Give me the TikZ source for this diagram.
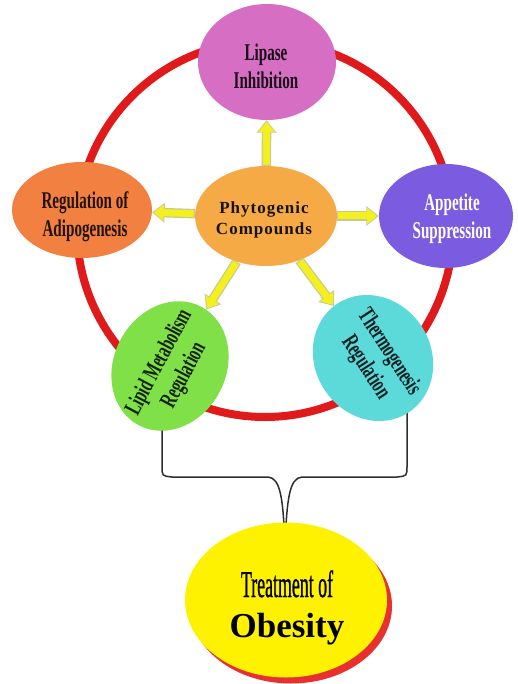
\documentclass[tikz,border=0pt]{standalone}
\usepackage{fontspec}
\setmainfont{Liberation Serif}
\newfontfamily\cond[FakeStretch=0.63]{Liberation Serif}
\newfontfamily\condx[FakeStretch=0.47,FakeBold=0.6]{Liberation Serif}
\newfontfamily\wide[LetterSpace=6]{Liberation Serif}
\usetikzlibrary{shapes.geometric,arrows.meta}
\definecolor{ringred}{HTML}{E01A1A}
\definecolor{cpink}{HTML}{D66EC4}
\definecolor{corange}{HTML}{F28040}
\definecolor{cphyto}{HTML}{F5AA45}
\definecolor{cpurple}{HTML}{7B5BE0}
\definecolor{cgreen}{HTML}{80E048}
\definecolor{ccyan}{HTML}{5CD9D9}
\definecolor{cyel}{HTML}{FFF200}
\definecolor{cshadow}{HTML}{E83030}
\definecolor{arrowyel}{HTML}{F4F01E}
\definecolor{arrowedge}{HTML}{C8C89A}
\definecolor{bracket}{HTML}{2E2E2E}
\tikzset{
  blob/.style={ellipse, inner sep=0pt, draw=none},
  lbl/.style={align=center, inner sep=0pt, font={\cond\bfseries\fontsize{24}{28}\selectfont}},
  arrowout/.style={draw=arrowedge, line width=9.5pt, -{Triangle[width=19pt,length=12.5pt]}},
  arrowin/.style={draw=arrowyel, line width=7pt, shorten >=1.6pt, shorten <=1.2pt, -{Triangle[width=15.5pt,length=10pt]}},
  brack/.style={draw=bracket, line width=1.5pt, line join=round}
}
\begin{document}
\begin{tikzpicture}[x=1pt,y=-1pt]
\useasboundingbox (0,0) rectangle (518,684);
\fill[white] (0,0) rectangle (518,684);
% ring
\node[circle, draw=ringred, line width=8pt, minimum size=376pt, inner sep=0pt] (ring) at (265,229) {};
% bracket
\coordinate (bl) at (162,400);
\coordinate (br) at (407,400);
\coordinate (bm) at (285,545);
\draw[brack] (bl) -- (162,466) .. controls (162,476) .. (172,477) -- (268,477)
  .. controls (281,478) and (283,500) .. (bm);
\draw[brack] (br) -- (407,466) .. controls (407,476) .. (397,477) -- (302,477)
  .. controls (289,478) and (287,500) .. (bm);
% ellipses
\node[blob, fill=cpink, minimum width=138pt, minimum height=116pt] (lp) at (267,62) {};
\node[blob, fill=corange, minimum width=140pt, minimum height=96pt] (ad) at (82,210) {};
\node[blob, fill=cphyto, minimum width=142pt, minimum height=100pt] (ph) at (266,216) {};
\node[blob, fill=cpurple, minimum width=134pt, minimum height=104pt] (ap) at (446,216) {};
\node[blob, fill=cgreen, minimum width=134pt, minimum height=112pt, rotate=62] (li) at (170,366) {};
\node[blob, fill=ccyan, minimum width=130pt, minimum height=116pt, rotate=-57] (th) at (373,358) {};
\node[blob, fill=cshadow, minimum width=202pt, minimum height=155pt] (obs) at (291,606) {};
\node[blob, fill=cyel, minimum width=202pt, minimum height=155pt] (ob) at (286,600) {};
% labels
\node[lbl, text=black!80!cpink!60!black] (lpt) at (266,66) {Lipase\\Inhibition};
\node[lbl, text=black!85!corange] (adt) at (85,217) {Regulation of\\Adipogenesis};
\node[align=center, inner sep=0pt, font={\wide\bfseries\fontsize{17}{21}\selectfont}, text=black!90!cphyto] (pht) at (264,220) {Phytogenic\\Compounds};
\node[lbl, text=white] (apt) at (452,219) {Appetite\\Suppression};
\node[lbl, text=black!85!cgreen, rotate=62] (lit) at (172,369) {Lipid Metabolism\\Regulation};
\node[lbl, text=black!85!ccyan, rotate=-57] (tht) at (377,360) {Thermogenesis\\Regulation};
\node[anchor=base, inner sep=0pt, font={\condx\fontsize{38}{40}\selectfont}] (obt1) at (287,597) {Treatment of};
\node[anchor=base, inner sep=0pt, font={\bfseries\fontsize{35}{40}\selectfont}] (obt2) at (287,637) {Obesity};
% arrows
\foreach \t in {lp,ad,ap,li,th}{
  \draw[arrowout] (ph) -- (\t);
  \draw[arrowin] (ph) -- (\t);
}
\end{tikzpicture}
\end{document}
